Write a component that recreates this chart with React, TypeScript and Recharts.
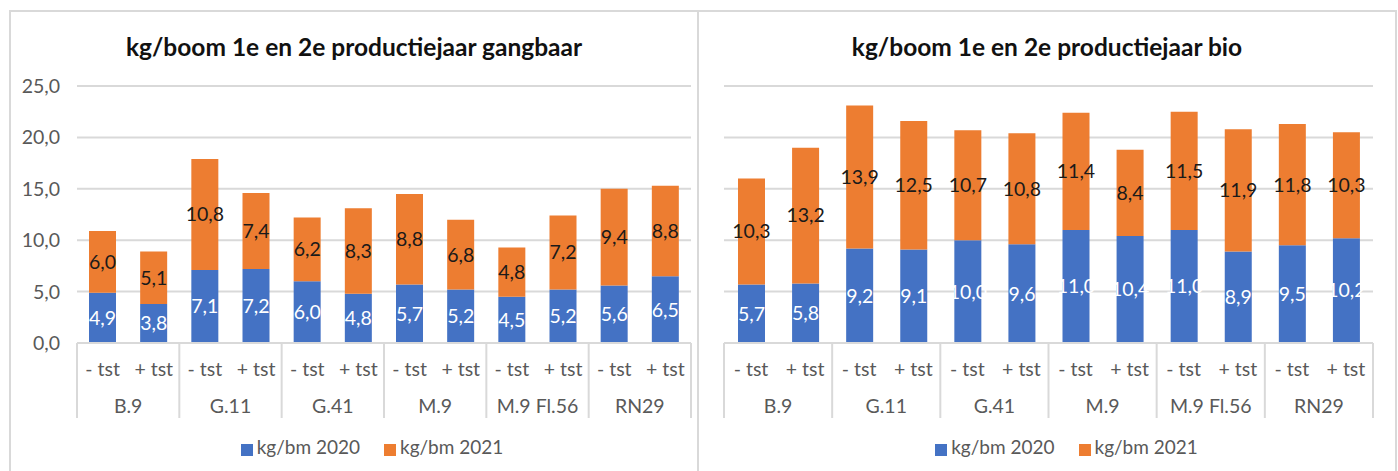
import { BarChart, Bar, XAxis, YAxis, CartesianGrid, Legend, LabelList } from 'recharts';

const rootstocks = ['B.9', 'G.11', 'G.41', 'M.9', 'M.9 Fl.56', 'RN29'];
const treatments = ['- tst', '+ tst'];
const yTicks = [0, 5, 10, 15, 20, 25];

const gangbaar2020 = [4.9, 3.8, 7.1, 7.2, 6.0, 4.8, 5.7, 5.2, 4.5, 5.2, 5.6, 6.5];
const gangbaar2021 = [6.0, 5.1, 10.8, 7.4, 6.2, 8.3, 8.8, 6.8, 4.8, 7.2, 9.4, 8.8];

const bio2020 = [5.7, 5.8, 9.2, 9.1, 10.0, 9.6, 11.0, 10.4, 11.0, 8.9, 9.5, 10.2];
const bio2021 = [10.3, 13.2, 13.9, 12.5, 10.7, 10.8, 11.4, 8.4, 11.5, 11.9, 11.8, 10.3];

const FONT = 'Lato, "Open Sans", sans-serif';
const GRID = '#d9d9d9';
const TEXT = '#595959';

const buildRows = (a: number[], b: number[]) =>
  rootstocks.flatMap((group, i) =>
    treatments.map((sub, j) => ({
      key: `${group}|${sub}`,
      group,
      sub,
      kg2020: a[i * 2 + j],
      kg2021: b[i * 2 + j],
    }))
  );

const fmt = (v: any) => Number(v).toFixed(1).replace('.', ',');

// two-level category axis: treatment on top, rootstock below, with Excel-style separators
const makeTick = (rows: { group: string; sub: string }[]) => (props: any) => {
  const { x, y, payload } = props;
  const i = payload?.index ?? 0;
  const half = payload?.offset ?? 25;
  const row = rows[i];
  if (!row) return null;
  return (
    <g>
      <text x={x} y={y + 25} textAnchor="middle" dominantBaseline="central" fill={TEXT} fontSize={19.5} fontFamily={FONT}>
        {row.sub}
      </text>
      {i % 2 === 0 && (
        <>
          <line x1={x - half} x2={x - half} y1={y} y2={y + 75} stroke={GRID} strokeWidth={2} />
          <text x={x + half} y={y + 62} textAnchor="middle" dominantBaseline="central" fill={TEXT} fontSize={19.5} fontFamily={FONT}>
            {row.group}
          </text>
        </>
      )}
      {i === rows.length - 1 && (
        <line x1={x + half} x2={x + half} y1={y} y2={y + 75} stroke={GRID} strokeWidth={2} />
      )}
    </g>
  );
};

const legendText = (v: string) => (
  <span style={{ color: TEXT, marginRight: 14, fontSize: 19, fontFamily: FONT }}>{v}</span>
);

interface PanelProps {
  rows: ReturnType<typeof buildRows>;
  width: number;
  showY: boolean;
  margin: { top: number; right: number; left: number; bottom: number };
}

const Panel = ({ rows, width, showY, margin }: PanelProps) => (
  <BarChart width={width} height={471} data={rows} margin={margin} barSize={27}>
    <CartesianGrid vertical={false} stroke={GRID} strokeWidth={2} />
    <XAxis
      dataKey="key"
      interval={0}
      height={92}
      tickLine={false}
      tickSize={0}
      tickMargin={0}
      axisLine={{ stroke: GRID, strokeWidth: 2 }}
      tick={makeTick(rows)}
    />
    <YAxis
      hide={!showY}
      width={60}
      domain={[0, 25]}
      ticks={yTicks}
      axisLine={false}
      tickLine={false}
      tickSize={6}
      tickMargin={11}
      tickFormatter={fmt}
      tick={{ fill: TEXT, fontSize: 19.5, fontFamily: FONT }}
    />
    <Legend
      verticalAlign="bottom"
      height={30}
      iconType="square"
      iconSize={12}
      formatter={legendText}
      wrapperStyle={{ paddingLeft: 30 }}
    />
    <Bar dataKey="kg2020" name="kg/bm 2020" stackId="a" fill="#4472C4" isAnimationActive={false}>
      <LabelList dataKey="kg2020" position="center" formatter={fmt} fill="#ffffff" fontSize={19.5} fontFamily={FONT} />
    </Bar>
    <Bar dataKey="kg2021" name="kg/bm 2021" stackId="a" fill="#ED7D31" isAnimationActive={false}>
      <LabelList dataKey="kg2021" position="center" formatter={fmt} fill="#1a1a1a" fontSize={19.5} fontFamily={FONT} />
    </Bar>
  </BarChart>
);

const titleStyle: React.CSSProperties = {
  position: 'absolute',
  top: 32,
  textAlign: 'center',
  fontFamily: FONT,
  fontWeight: 700,
  fontSize: 24.5,
  color: '#111',
  lineHeight: '30px',
};

export default function App() {
  const left = buildRows(gangbaar2020, gangbaar2021);
  const right = buildRows(bio2020, bio2021);
  return (
    <div style={{ position: 'absolute', left: 0, top: 0, width: 1398, height: 471, background: '#fff', overflow: 'hidden' }}>
      <div style={{ position: 'absolute', left: 9, top: 10, width: 690, height: 500, border: `2px solid ${GRID}`, boxSizing: 'border-box' }} />
      <div style={{ position: 'absolute', left: 697, top: 10, width: 700, height: 500, border: `2px solid ${GRID}`, boxSizing: 'border-box' }} />
      <div style={{ ...titleStyle, left: 9, width: 690 }}>kg/boom 1e en 2e productiejaar gangbaar</div>
      <div style={{ ...titleStyle, left: 697, width: 700 }}>kg/boom 1e en 2e productiejaar bio</div>
      <div style={{ position: 'absolute', left: 0, top: 0 }}>
        <Panel rows={left} width={698} showY margin={{ top: 86, right: 7, left: 17, bottom: 6 }} />
      </div>
      <div style={{ position: 'absolute', left: 698, top: 0 }}>
        <Panel rows={right} width={700} showY={false} margin={{ top: 86, right: 25, left: 26, bottom: 6 }} />
      </div>
    </div>
  );
}
